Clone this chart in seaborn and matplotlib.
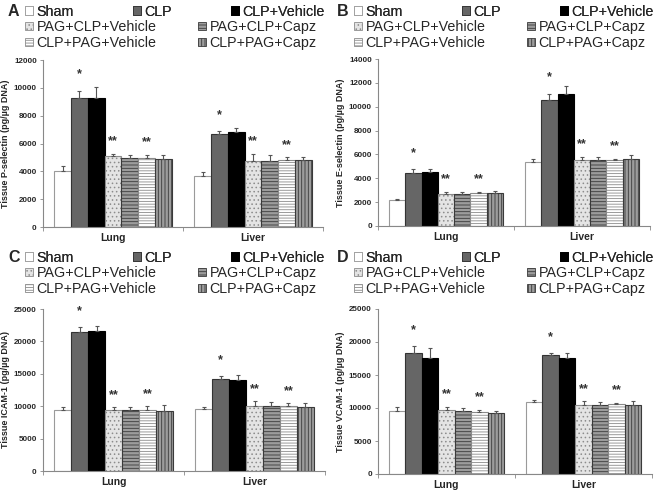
import numpy as np
import pandas as pd
import seaborn as sns
import matplotlib.pyplot as plt
from matplotlib.patches import Patch

groups = ['Sham', 'CLP', 'CLP+Vehicle', 'PAG+CLP+Vehicle', 'PAG+CLP+Capz',
          'CLP+PAG+Vehicle', 'CLP+PAG+Capz']
tissues = ['Lung', 'Liver']

# mean values per group, [Lung, Liver]
psel_mean = [[4050, 3650], [9250, 6700], [9250, 6800], [5100, 4750],
             [4950, 4750], [4950, 4800], [4920, 4780]]
psel_err = [[300, 300], [550, 200], [800, 300], [150, 500],
            [200, 450], [250, 200], [250, 250]]

esel_mean = [[2200, 5400], [4450, 10600], [4500, 11050], [2700, 5500],
             [2720, 5550], [2750, 5500], [2800, 5600]]
esel_err = [[80, 250], [350, 500], [300, 650], [150, 300],
            [100, 250], [100, 150], [150, 350]]

icam_mean = [[9400, 9550], [21400, 14200], [21600, 14100], [9450, 10050],
             [9450, 10000], [9400, 10050], [9250, 9950]]
icam_err = [[400, 300], [800, 500], [700, 700], [400, 700],
            [400, 600], [600, 400], [900, 500]]

vcam_mean = [[9500, 10950], [18400, 18000], [17600, 17600], [9750, 10500],
             [9550, 10450], [9450, 10550], [9200, 10500]]
vcam_err = [[700, 300], [1000, 300], [1500, 700], [400, 500],
            [400, 500], [250, 250], [400, 600]]

styles = {
    'Sham': dict(fc='white', ec='#9a9a9a', hatch=None),
    'CLP': dict(fc='#666666', ec='#333333', hatch=None),
    'CLP+Vehicle': dict(fc='black', ec='black', hatch=None),
    'PAG+CLP+Vehicle': dict(fc='#e4e4e4', ec='#8c8c8c', hatch='....'),
    'PAG+CLP+Capz': dict(fc='#9c9c9c', ec='#3a3a3a', hatch='-----'),
    'CLP+PAG+Vehicle': dict(fc='white', ec='#8a8a8a', hatch='------'),
    'CLP+PAG+Capz': dict(fc='#9c9c9c', ec='#3a3a3a', hatch='|||||'),
}

sns.set_style('white')
plt.rcParams['font.family'] = ['Liberation Sans', 'DejaVu Sans']
plt.rcParams['hatch.linewidth'] = 0.6

fig = plt.figure(figsize=(6.61, 4.92), dpi=100)
W, H = 661, 492


def px(x0, y0, w, h):
    return [x0 / W, 1 - (y0 + h) / H, w / W, h / H]


def legend_handles(names):
    hs = []
    for n in names:
        s = styles[n]
        hs.append(Patch(facecolor=s['fc'], edgecolor=s['ec'], hatch=s['hatch'],
                        linewidth=0.6, label=n))
    return hs


def panel(rect, letter, lx, ly, mean, err, ylabel, ymax, ystep):
    ax = fig.add_axes(px(*rect))
    rows = []
    for g, m, e in zip(groups, mean, err):
        for t, v, ev in zip(tissues, m, e):
            rows.append(dict(tissue=t, group=g, value=v, err=ev))
    df = pd.DataFrame(rows)
    sns.barplot(data=df, x='tissue', y='value', hue='group', hue_order=groups,
                order=tissues, errorbar=None, width=0.84, legend=False, ax=ax)
    conts = list(ax.containers)
    for gi, cont in enumerate(conts):
        g = groups[gi]
        s = styles[g]
        sub = df[df.group == g].set_index('tissue').loc[tissues]
        for bar, (_, r) in zip(cont, sub.iterrows()):
            bar.set_facecolor(s['fc'])
            bar.set_edgecolor(s['ec'])
            bar.set_linewidth(0.8)
            if s['hatch']:
                bar.set_hatch(s['hatch'])
            xc = bar.get_x() + bar.get_width() / 2
            ax.errorbar(xc, r.value, yerr=[[0], [r.err]], fmt='none',
                        ecolor='#555555', elinewidth=0.8, capsize=1.5,
                        capthick=0.8, zorder=3)
            top = r.value + r.err
            if g == 'CLP':
                ax.text(xc, top + 0.06 * ymax, '*', ha='center', va='bottom',
                        fontsize=9, fontweight='bold', color='#333333')
            elif g in ('PAG+CLP+Vehicle', 'CLP+PAG+Vehicle'):
                ax.text(xc, top + 0.04 * ymax, '**', ha='center', va='bottom',
                        fontsize=9, fontweight='bold', color='#333333')
    ax.set_xlim(-0.5, 1.5)
    ax.set_ylim(0, ymax)
    ax.set_yticks(np.arange(0, ymax + 1, ystep))
    ax.set_xticks([0, 1])
    ax.set_xticklabels(tissues, fontsize=7.5, fontweight='bold')
    ax.set_xticks([-0.5, 0.5, 1.5], minor=True)
    ax.tick_params(axis='x', which='major', length=0, pad=4)
    ax.tick_params(axis='x', which='minor', length=3, width=0.6,
                   color='#888888', direction='out', bottom=True)
    ax.tick_params(axis='y', length=2.5, width=0.6, color='#888888',
                   direction='out', left=True, labelsize=5.8, pad=2)
    for lab in ax.get_yticklabels():
        lab.set_fontweight('bold')
    ax.set_xlabel('')
    ax.set_ylabel(ylabel, fontsize=6.5, fontweight='bold', labelpad=3)
    sns.despine(ax=ax)
    for sp in ('left', 'bottom'):
        ax.spines[sp].set_color('#888888')
        ax.spines[sp].set_linewidth(0.8)

    fig.text(lx / W, 1 - ly / H, letter, fontsize=11.5, fontweight='bold',
             ha='left', va='center')
    x0 = (lx + 17) / W
    wd = 300 / W
    leg1 = fig.legend(handles=legend_handles(groups[:3]), ncol=3, mode='expand',
                      loc='upper left', bbox_to_anchor=(x0, 1 - (ly - 7) / H, wd, 0.001),
                      frameon=False, fontsize=10.3, handlelength=0.55,
                      handleheight=0.55, handletextpad=0.25, borderaxespad=0,
                      borderpad=0, labelspacing=0.1)
    fig.add_artist(leg1)
    order = ['PAG+CLP+Vehicle', 'CLP+PAG+Vehicle', 'PAG+CLP+Capz', 'CLP+PAG+Capz']
    fig.legend(handles=legend_handles(order), ncol=2, loc='upper left',
               bbox_to_anchor=(x0, 1 - (ly + 8) / H), frameon=False,
               fontsize=10.3, handlelength=0.55, handleheight=0.55,
               handletextpad=0.25, borderaxespad=0, borderpad=0,
               labelspacing=0.15, columnspacing=2.9)
    return ax


panel((43, 60, 280, 167), 'A', 8, 12, psel_mean, psel_err,
      'Tissue P-selectin (pg/µg DNA)', 12000, 2000)
panel((378, 59, 272, 167), 'B', 337, 12, esel_mean, esel_err,
      'Tissue E-selectin (pg/µg DNA)', 14000, 2000)
panel((43, 309, 282, 162), 'C', 8, 258, icam_mean, icam_err,
      'Tissue ICAM-1 (pg/µg DNA)', 25000, 5000)
panel((378, 309, 274, 165), 'D', 337, 258, vcam_mean, vcam_err,
      'Tissue VCAM-1 (pg/µg DNA)', 25000, 5000)

fig.savefig('out.png', dpi=100)
